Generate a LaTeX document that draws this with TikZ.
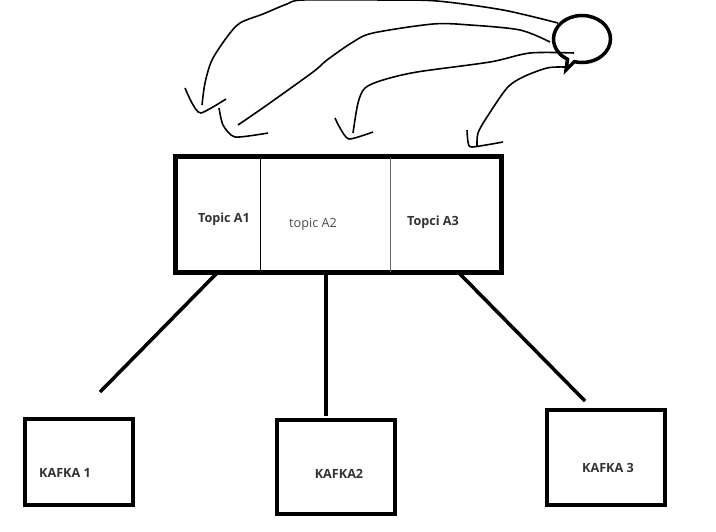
\documentclass[tikz,border=0pt]{standalone}
\usepackage{fontspec}
\setmainfont{Open Sans}
\usetikzlibrary{shapes.callouts}
\tikzset{
    box/.style={draw,line width=2.5pt,inner sep=0pt},
    link/.style={line width=2pt},
    sketch/.style={line width=0.9pt,line join=round},
    label/.style={font=\fontsize{7.2}{8}\selectfont\bfseries,text=black!80},
}
\begin{document}
\begin{tikzpicture}[x=0.02cm,y=-0.02cm]
    \useasboundingbox(0,0)rectangle(716,531);

    % topic box
    \node[box,line width=2.7pt,minimum width=326*0.02cm,minimum height=116*0.02cm](topics)at(338.5,214.5){};
    \draw[line width=0.4pt](260.5,157)--(260.5,272);
    \draw[line width=0.4pt,black!60](390,158)--(390,272);
    \node[label](a1)at(224,219){Topic A1};
    \node[font=\fontsize{7.2}{8}\selectfont,text=black!70](a2)at(313,224){topic A2};
    \node[label](a3)at(433,222){Topci A3};

    % kafka boxes
    \node[box,minimum width=108*0.02cm,minimum height=86*0.02cm](kafka1)at(79,462){};
    \node[box,minimum width=118*0.02cm,minimum height=94*0.02cm](kafka2)at(336,467){};
    \node[box,minimum width=118*0.02cm,minimum height=95*0.02cm](kafka3)at(606,457.5){};
    \node[label](k1)at(65,473){KAFKA 1};
    \node[label](k2)at(339,474){KAFKA2};
    \node[label](k3)at(608,468){KAFKA 3};

    % links, free ends stop short of the boxes
    \coordinate(s1)at(217,273);
    \coordinate(s2)at(326,273);
    \coordinate(s3)at(459,273);
    \coordinate(e1)at(100,392);
    \coordinate(e2)at(326,416);
    \coordinate(e3)at(585,401);
    \draw[link](s1)--(e1);
    \draw[link](s2)--(e2);
    \draw[link](s3)--(e3);

    % bubble
    \node[ellipse callout,draw,line width=2pt,minimum width=57*0.02cm,minimum height=47*0.02cm,
        inner sep=0pt,callout absolute pointer={(566,70)}](bubble)at(582,39){};

    % hand drawn curves
    \coordinate(c1)at(558,23);
    \coordinate(c2)at(550,42);
    \coordinate(c3)at(574,53);
    \coordinate(c4)at(565,67);
    \coordinate(t1)at(202,105);
    \coordinate(t2)at(238,125);
    \coordinate(t3)at(353,133);
    \coordinate(t4)at(477,147);
    \draw[sketch]plot[smooth,tension=0.5]coordinates{(c1)(503,10)(437,1)(383,0)(303,0)(287,4)(263,14)(240,23)(227,37)(212,60)(205,83)(t1)};
    \draw[sketch]plot[smooth,tension=0.5]coordinates{(c2)(520,30)(470,25)(433,24)(373,33)(353,42)(327,60)(313,72)(267,105)(t2)};
    \draw[sketch]plot[smooth,tension=0.5]coordinates{(c3)(530,53)(490,62)(417,72)(383,80)(365,88)(358,103)(t3)};
    \draw[sketch]plot[smooth,tension=0.5]coordinates{(c4)(547,68)(523,77)(507,88)(487,117)(478,133)(t4)};

    % arrow heads
    \draw[sketch]plot[smooth,tension=0.4]coordinates{(185,88)(192,103)(201,113)(226,99)};
    \draw[sketch]plot[smooth,tension=0.4]coordinates{(219,108)(223,125)(235,137)(268,133)};
    \draw[sketch]plot[smooth,tension=0.4]coordinates{(335,118)(340,128)(349,139)(373,132)};
    \draw[sketch]plot[smooth,tension=0.4]coordinates{(467,130)(468,142)(472,147)(503,142)};
\end{tikzpicture}
\end{document}
